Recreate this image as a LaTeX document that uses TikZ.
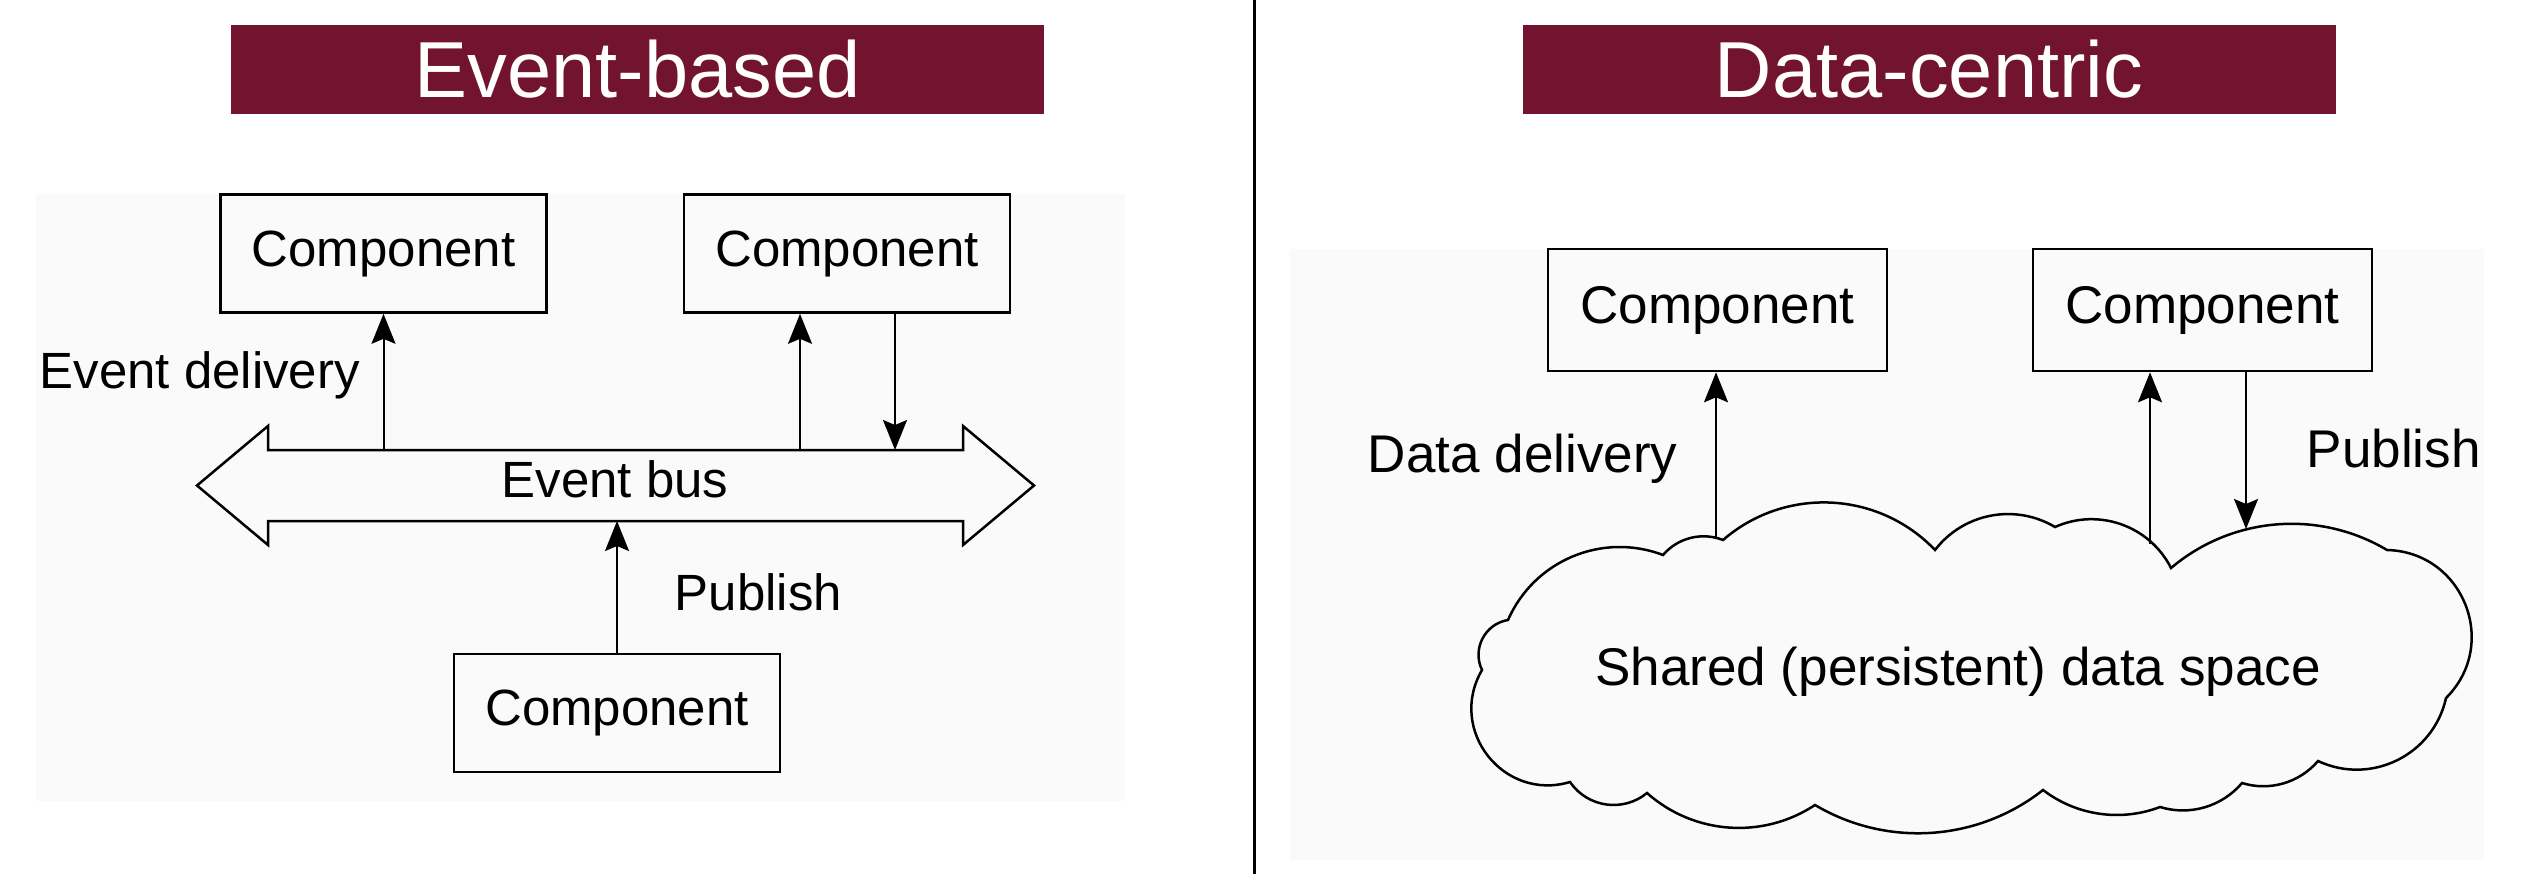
\documentclass[tikz,border=0pt]{standalone}
\usepackage{fontspec}
\setmainfont{Liberation Sans}
\usetikzlibrary{arrows.meta,calc}
\definecolor{maroon}{RGB}{114,20,48}
\definecolor{panelbg}{RGB}{250,250,250}
\begin{document}
\begin{tikzpicture}[x=0.1mm,y=-0.1mm,
  titlebar/.style={fill=maroon, draw=none, minimum width=81.3mm, minimum height=8.9mm, inner sep=0, text=white, font=\fontsize{22.6pt}{26pt}\selectfont},
  lbox/.style={draw, line width=0.26mm, minimum width=32.6mm, minimum height=11.8mm, inner sep=0, font=\fontsize{14.5pt}{17pt}\selectfont},
  rbox/.style={draw, line width=0.26mm, minimum width=33.9mm, minimum height=12.2mm, inner sep=0, font=\fontsize{15.1pt}{18pt}\selectfont},
  llab/.style={inner sep=0, font=\fontsize{14.5pt}{17pt}\selectfont},
  rlab/.style={inner sep=0, font=\fontsize{15.1pt}{18pt}\selectfont},
  arr/.style={-{Stealth[length=3mm,width=2.4mm,inset=0.5mm]}, line width=0.2mm},
  busline/.style={line width=0.25mm, fill=panelbg, line join=miter},
  cloudline/.style={line width=0.25mm, line join=miter},
  hump/.style={to path={let \p1=(\tikztostart), \p2=(\tikztotarget) in
    .. controls ({\x1+(1-4*#1*#1)/3*((\x2)-(\x1))-4*#1/3*((\y2)-(\y1))},{\y1+(1-4*#1*#1)/3*((\y2)-(\y1))+4*#1/3*((\x2)-(\x1))})
    and ({\x2-(1-4*#1*#1)/3*((\x2)-(\x1))-4*#1/3*((\y2)-(\y1))},{\y2-(1-4*#1*#1)/3*((\y2)-(\y1))+4*#1/3*((\x2)-(\x1))})
    .. (\tikztotarget)}},
]
\useasboundingbox (0,0) rectangle (2524,874);
\fill[white] (0,0) rectangle (2524,874);
\fill[panelbg] (36,194) rectangle (1125,801);
\fill[panelbg] (1290,249) rectangle (2484,860);
\draw[line width=0.3mm] (1254,0) -- (1254,874);

% titles
\node[titlebar] (t1) at (637.5,69.5) {Event-based};
\node[titlebar] (t2) at (1929,69.5) {Data-centric};

% ---------- Event-based ----------
\node[lbox] (e1) at (383.5,253.5) {Component};
\node[lbox] (e2) at (847,253.5) {Component};
\node[lbox] (e3) at (617,713) {Component};

\draw[busline] (197,485.5) -- (268,426) -- (268,450) -- (963,450) -- (963,426)
  -- (1034,485.5) -- (963,545) -- (963,521) -- (268,521) -- (268,545) -- cycle;
\node[llab, anchor=base] (bus) at (615,497) {Event bus};
\coordinate (b1) at (383.5,450);
\coordinate (b2) at (800,450);
\coordinate (b3) at (895,450);
\coordinate (b4) at (617,521);

\draw[arr] (b1) -- (e1.south);
\draw[arr] (b2) -- (b2 |- e2.south);
\draw[arr] (b3 |- e2.south) -- (b3);
\draw[arr] (e3.north) -- (b4);

\node[llab, anchor=base west] (l1) at (39,388) {Event delivery};
\node[llab, anchor=base west] (l2) at (674,610) {Publish};

% ---------- Data-centric ----------
\node[rbox] (d1) at (1717.5,310) {Component};
\node[rbox] (d2) at (2202.5,310) {Component};

\draw[cloudline] (1508,620)
  to[hump=0.2]  (1663,555)
  to[hump=0.16] (1723,540)
  to[hump=0.2]  (1935,550)
  to[hump=0.19] (2055,527)
  to[hump=0.2]  (2171,568)
  to[hump=0.16] (2387,550)
  to[hump=0.33] (2446,698)
  to[hump=0.24] (2318,761)
  to[hump=0.15] (2242,783)
  to[hump=0.15] (2160,807)
  to[hump=0.13] (2043,790)
  to[hump=0.155] (1815,805)
  to[hump=0.17] (1647,793)
  to[hump=0.22] (1570,782)
  to[hump=0.34] (1482,670)
  to[hump=0.25] (1508,620)
  -- cycle;
\node[rlab, anchor=base] (cl) at (1958,685) {Shared (persistent) data space};

\coordinate (c1) at (1716,539);
\coordinate (c2) at (2150,544);
\coordinate (c3) at (2246,529);
\draw[arr] (c1) -- (c1 |- d1.south);
\draw[arr] (c2) -- (c2 |- d2.south);
\draw[arr] (c3 |- d2.south) -- (c3);

\node[rlab, anchor=base west] (l3) at (1367,472) {Data delivery};
\node[rlab, anchor=base west] (l4) at (2306,467) {Publish};
\end{tikzpicture}
\end{document}
